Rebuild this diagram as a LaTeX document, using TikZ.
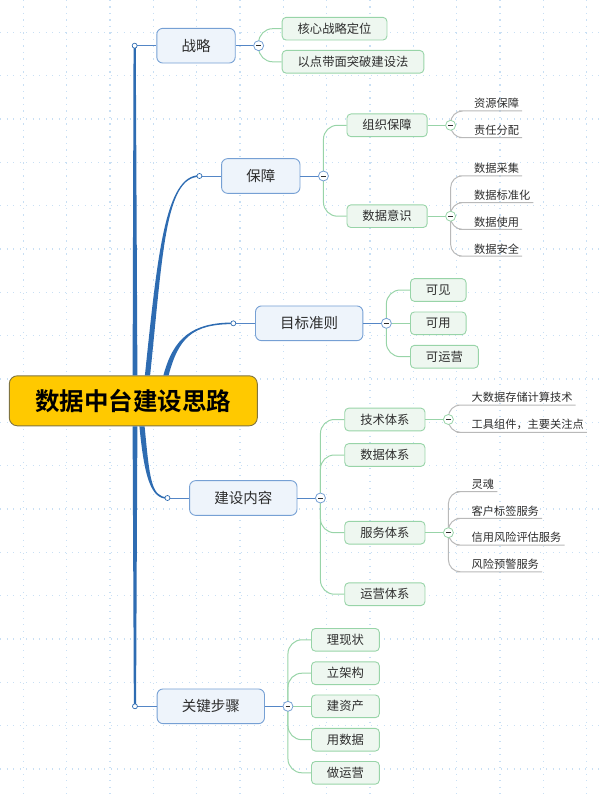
\documentclass[tikz,border=0pt]{standalone}
\usepackage{fontspec}
\setmainfont{Noto Sans CJK SC}[BoldFont={Noto Sans CJK SC Bold}]
\usetikzlibrary{positioning}
\definecolor{trunkblue}{RGB}{46,108,178}
\definecolor{stemblue}{RGB}{84,134,198}
\definecolor{topicline}{RGB}{118,160,212}
\definecolor{topicfill}{RGB}{238,244,251}
\definecolor{subline}{RGB}{152,212,168}
\definecolor{subfill}{RGB}{238,247,240}
\definecolor{leafline}{RGB}{185,185,185}
\definecolor{griddot}{RGB}{200,223,244}
\definecolor{rootfill}{RGB}{255,201,0}
\definecolor{rootline}{RGB}{128,116,64}
\definecolor{ink}{RGB}{45,45,45}
\begin{document}
\begin{tikzpicture}[x=1pt,y=-1pt,
root/.style={draw=rootline,fill=rootfill,rounded corners=8,line width=0.9,minimum width=248,minimum height=50,font=\fontsize{24.5}{28}\selectfont\bfseries,text=black},
topic/.style={draw=topicline,fill=topicfill,rounded corners=6,line width=0.9,inner xsep=24.7,minimum height=34.7,font=\fontsize{14.5}{17}\selectfont,text=ink},
sub/.style={draw=subline,fill=subfill,rounded corners=4,line width=0.9,inner xsep=15.5,minimum height=22.7,anchor=west,font=\fontsize{12.3}{14}\selectfont,text=ink},
leaf/.style={inner xsep=3,inner ysep=2,anchor=south west,font=\fontsize{11.2}{13}\selectfont,text=ink},
trunk/.style={fill=trunkblue},
stem/.style={draw=stemblue,line width=0.9},
twig/.style={draw=subline,line width=1,rounded corners=14},
sprig/.style={draw=leafline,line width=1,rounded corners=12},
knob/.style={circle,draw=trunkblue,fill=white,line width=0.7,minimum size=5,inner sep=0},
fold/.style={circle,draw=#1,fill=white,line width=0.8,minimum size=10,inner sep=0,
  path picture={\draw[ink,line width=0.8] ([xshift=-2.4]path picture bounding box.center) -- ([xshift=2.4]path picture bounding box.center);}}]
\def\limb#1#2#3#4#5{
\fill[trunk] ([xshift=-2.6]#1) .. controls ([xshift=-2.6]#3) and ([yshift=#5]#4) .. ([yshift=#5]#2)
  -- ([yshift={-(#5)}]#2) .. controls ([yshift={-(#5)}]#4) and ([xshift=2.6]#3) .. ([xshift=2.6]#1) -- cycle;
}
\useasboundingbox (0,0) rectangle (600,799);
\foreach \i in {0,...,13}
\draw[griddot,line width=1.4,dash pattern=on 1.4pt off 5.1pt] ({23.3+43.33*\i},0) -- ++(0,799);
\foreach \j in {0,...,17}
\draw[griddot,line width=1.4,dash pattern=on 1.4pt off 5.1pt] (0,{32.3+43.33*\j}) -- ++(600,0);

\node[root] (hub) at (133.3,400.8) {数据中台建设思路};
\node[topic] (zl) at (196,45.7) {战略};
\node[topic] (bz) at (260.8,176) {保障};
\node[topic] (mb) at (309.2,323.3) {目标准则};
\node[topic] (js) at (243.3,498) {建设内容};
\node[topic] (gj) at (210.8,706.3) {关键步骤};
\foreach \n in {zl,bz,mb,js,gj}{
\coordinate[left=21.7pt of \n] (\n-in);
\coordinate[right=23pt of \n] (\n-out);
}
\coordinate (hub-a) at ([xshift=1.7]hub.north);
\coordinate (hub-b) at ([xshift=14.2]hub.north);
\coordinate (hub-c) at ([xshift=32.7]hub.north);
\coordinate (hub-d) at ([xshift=8.7]hub.south);
\coordinate (hub-e) at ([xshift=1.7]hub.south);

\fill[trunk] ([xshift=-2.4]hub-a) -- ([xshift=-1.1]zl-in) -- ([xshift=1.1]zl-in) -- ([xshift=2.4]hub-a) -- cycle;
\fill[trunk] ([xshift=-2.4]hub-e) -- ([xshift=-1.1]gj-in) -- ([xshift=1.1]gj-in) -- ([xshift=2.4]hub-e) -- cycle;
\limb{hub-b}{bz-in}{160,256}{165,176}{0.8}
\limb{hub-c}{mb-in}{176,338}{192,323.3}{0.8}
\limb{hub-d}{js-in}{147,478}{151,498}{-0.8}

\foreach \t/\y [count=\i] in {核心战略定位/28.7,以点带面突破建设法/61.8}
\node[sub] (zl\i) at (281.7,\y) {\t};
\foreach \t/\y [count=\i] in {组织保障/125.3,数据意识/216.2}
\node[sub] (bz\i) at (346.5,\y) {\t};
\foreach \t/\y [count=\i] in {可见/290,可用/323.3,可运营/356.7}
\node[sub] (mb\i) at (410,\y) {\t};
\foreach \t/\y [count=\i] in {技术体系/419.5,数据体系/455,服务体系/532.7,运营体系/594.2}
\node[sub] (js\i) at (344.3,\y) {\t};
\foreach \t/\y [count=\i] in {理现状/639.8,立架构/673.2,建资产/706.3,用数据/739.7,做运营/772.8}
\node[sub] (gj\i) at (311,\y) {\t};
\foreach \n in {bz1,bz2,js1,js3}
\coordinate[right=23pt of \n] (\n-out);

\foreach \t/\y [count=\i] in {资源保障/111,责任分配/137.7}
\node[leaf] (bz1-\i) at (471,\y) {\t};
\foreach \t/\y [count=\i] in {数据采集/175.8,数据标准化/202.6,数据使用/229.4,数据安全/256.2}
\node[leaf] (bz2-\i) at (471,\y) {\t};
\foreach \t/\y [count=\i] in {大数据存储计算技术/405,工具组件，主要关注点/432.3}
\node[leaf] (js1-\i) at (468.5,\y) {\t};
\foreach \t/\y [count=\i] in {灵魂/491.7,客户标签服务/518.4,信用风险评估服务/545.1,风险预警服务/571.8}
\node[leaf] (js3-\i) at (468.5,\y) {\t};

\foreach \n in {zl,bz,mb,js,gj}{
\draw[stem] (\n-in) -- (\n);
\draw[stem] (\n) -- (\n-out);
}
\foreach \i in {1,2} \draw[twig] (zl-out) |- (zl\i.west);
\foreach \i in {1,2} \draw[twig] (bz-out) |- (bz\i.west);
\foreach \i in {1,3} \draw[twig] (mb-out) |- (mb\i.west);
\draw[twig] (mb-out) -- (mb2);
\foreach \i in {1,...,4} \draw[twig] (js-out) |- (js\i.west);
\foreach \i in {1,2,4,5} \draw[twig] (gj-out) |- (gj\i.west);
\draw[twig] (gj-out) -- (gj3);
\foreach \n in {bz1,bz2,js1,js3} \draw[twig] (\n) -- (\n-out);
\foreach \i in {1,2} \draw[sprig] (bz1-out) |- (bz1-\i.south west) -- (bz1-\i.south east);
\foreach \i in {1,...,4} \draw[sprig] (bz2-out) |- (bz2-\i.south west) -- (bz2-\i.south east);
\foreach \i in {1,2} \draw[sprig] (js1-out) |- (js1-\i.south west) -- (js1-\i.south east);
\foreach \i in {1,...,4} \draw[sprig] (js3-out) |- (js3-\i.south west) -- (js3-\i.south east);

\foreach \n in {zl,bz,mb,js,gj}{
\node[knob] at (\n-in) {};
\node[fold=topicline] at (\n-out) {};
}
\foreach \n in {bz1,bz2,js1,js3} \node[fold=subline] at (\n-out) {};
\end{tikzpicture}
\end{document}
